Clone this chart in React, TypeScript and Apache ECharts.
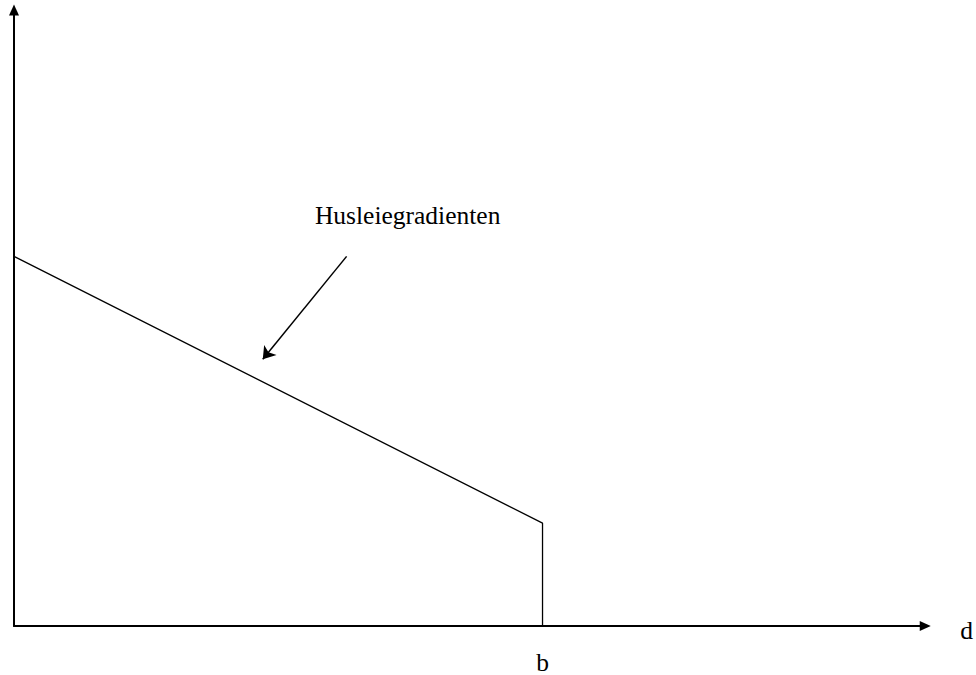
import React, { useEffect, useRef } from "react";
import * as echarts from "echarts";

// Axis extents (abstract units)
const X_MAX = 100;
const Y_MAX = 100;

// Rent gradient: falls linearly from the centre out to the city edge b, then drops to zero
const B_POS = 58;
const gradientX = [0, B_POS, B_POS];
const gradientY = [60, 16.7, 0];

// Annotation pointing at the gradient
const annotationText = "Husleiegradienten";
const annotationTextPos = [43.2, 66.6];
const annotationArrowFrom = [36.5, 60.0];
const annotationArrowTo = [27.3, 43.3];

const FONT = "'Liberation Serif', 'Times New Roman', serif";
const FONT_SIZE = 25.5;

export default function App() {
  const ref = useRef<HTMLDivElement>(null);

  useEffect(() => {
    if (!ref.current) return;
    const chart = echarts.init(ref.current, null, { renderer: "svg" });
    const axisLine = {
      show: true,
      onZero: false,
      symbol: ["none", "triangle"],
      symbolSize: [10, 11],
      lineStyle: { color: "#000", width: 2 },
    };
    chart.setOption({
      animation: false,
      backgroundColor: "#fff",
      grid: { left: 14, right: 50, top: 10, bottom: 44, containLabel: false },
      xAxis: {
        type: "value",
        min: 0,
        max: X_MAX,
        name: "d",
        nameLocation: "end",
        nameGap: 35,
        nameTextStyle: {
          fontFamily: FONT,
          fontSize: FONT_SIZE,
          color: "#000",
          verticalAlign: "top",
          lineHeight: 8,
        },
        axisLine,
        axisTick: { show: false },
        splitLine: { show: false },
        axisLabel: {
          show: true,
          customValues: [B_POS],
          formatter: () => "b",
          margin: 23,
          fontFamily: FONT,
          fontSize: FONT_SIZE,
          color: "#000",
        },
      },
      yAxis: {
        type: "value",
        min: 0,
        max: Y_MAX,
        axisLine,
        axisTick: { show: false },
        splitLine: { show: false },
        axisLabel: { show: false },
      },
      series: [
        {
          type: "line",
          data: gradientX.map((x, i) => [x, gradientY[i]]),
          symbol: "none",
          lineStyle: { color: "#000", width: 1.3 },
          z: 3,
          markLine: {
            silent: true,
            symbol: ["none", "arrow"],
            symbolSize: 12,
            label: { show: false },
            lineStyle: { color: "#000", width: 1.5, type: "solid" },
            data: [[{ coord: annotationArrowFrom }, { coord: annotationArrowTo }]],
          },
          markPoint: {
            silent: true,
            symbol: "circle",
            symbolSize: 0,
            label: {
              show: true,
              formatter: annotationText,
              fontFamily: FONT,
              fontSize: FONT_SIZE,
              color: "#000",
            },
            data: [{ coord: annotationTextPos }],
          },
        },
      ],
    });
    return () => chart.dispose();
  }, []);

  return (
    <div
      ref={ref}
      style={{ position: "fixed", left: 0, top: 0, width: 976, height: 675 }}
    />
  );
}
